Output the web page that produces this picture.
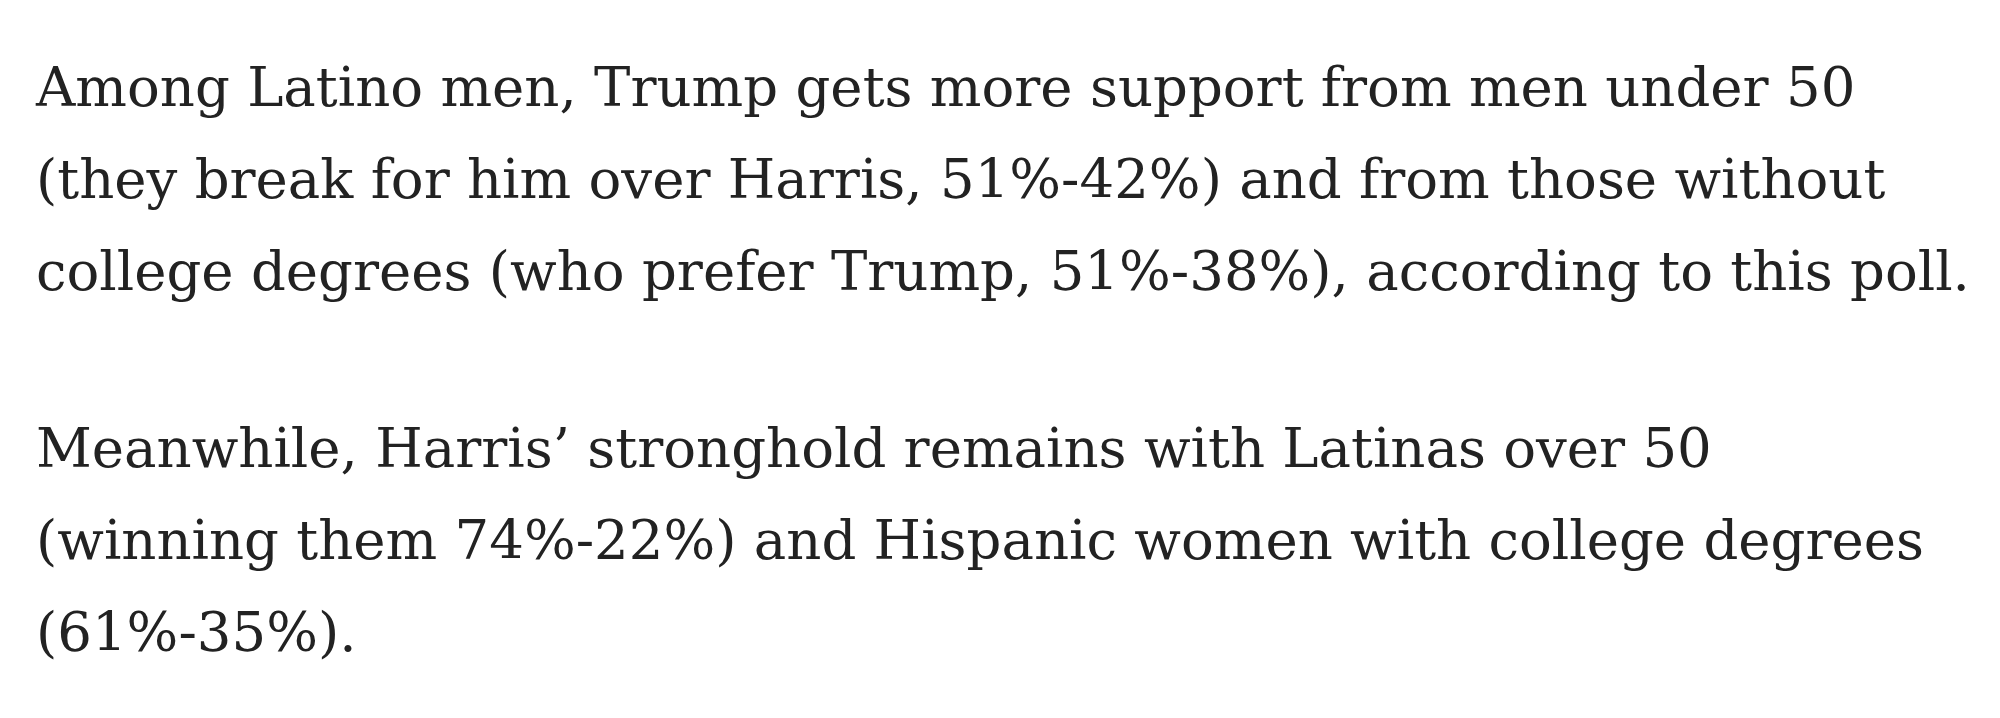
<!DOCTYPE html>
<html>
<head>
<meta charset="utf-8">
<script src="https://cdn.jsdelivr.net/npm/chart.js@4.4.1/dist/chart.umd.min.js"></script>
<style>
  html, body { margin: 0; padding: 0; background: #fff; }
  body { width: 2000px; height: 718px; overflow: hidden; }
  #texte {
    position: absolute;
    left: 36px;
    top: 41px;
    font-family: "DejaVu Serif", serif;
    font-size: 54.5px;
    line-height: 92px;
    color: #222;
  }
  #texte p { margin: 0 0 85px 0; white-space: nowrap; }
  #texte span { display: block; }
</style>
</head>
<body>
<div id="texte"></div>
<script>
// Les lignes de chaque paragraphe, coupées comme dans l'original
const paragraphe1 = [
    'Among Latino men, Trump gets more support from men under 50',
    '(they break for him over Harris, 51%-42%) and from those without',
    'college degrees (who prefer Trump, 51%-38%), according to this poll.'
];
const paragraphe2 = [
    'Meanwhile, Harris\u2019 stronghold remains with Latinas over 50',
    '(winning them 74%-22%) and Hispanic women with college degrees',
    '(61%-35%).'
];

const conteneur = document.getElementById('texte');
[paragraphe1, paragraphe2].forEach(lignes => {
    const p = document.createElement('p');
    lignes.forEach(ligne => {
        const span = document.createElement('span');
        span.textContent = ligne;
        p.appendChild(span);
    });
    conteneur.appendChild(p);
});
</script>
</body>
</html>
